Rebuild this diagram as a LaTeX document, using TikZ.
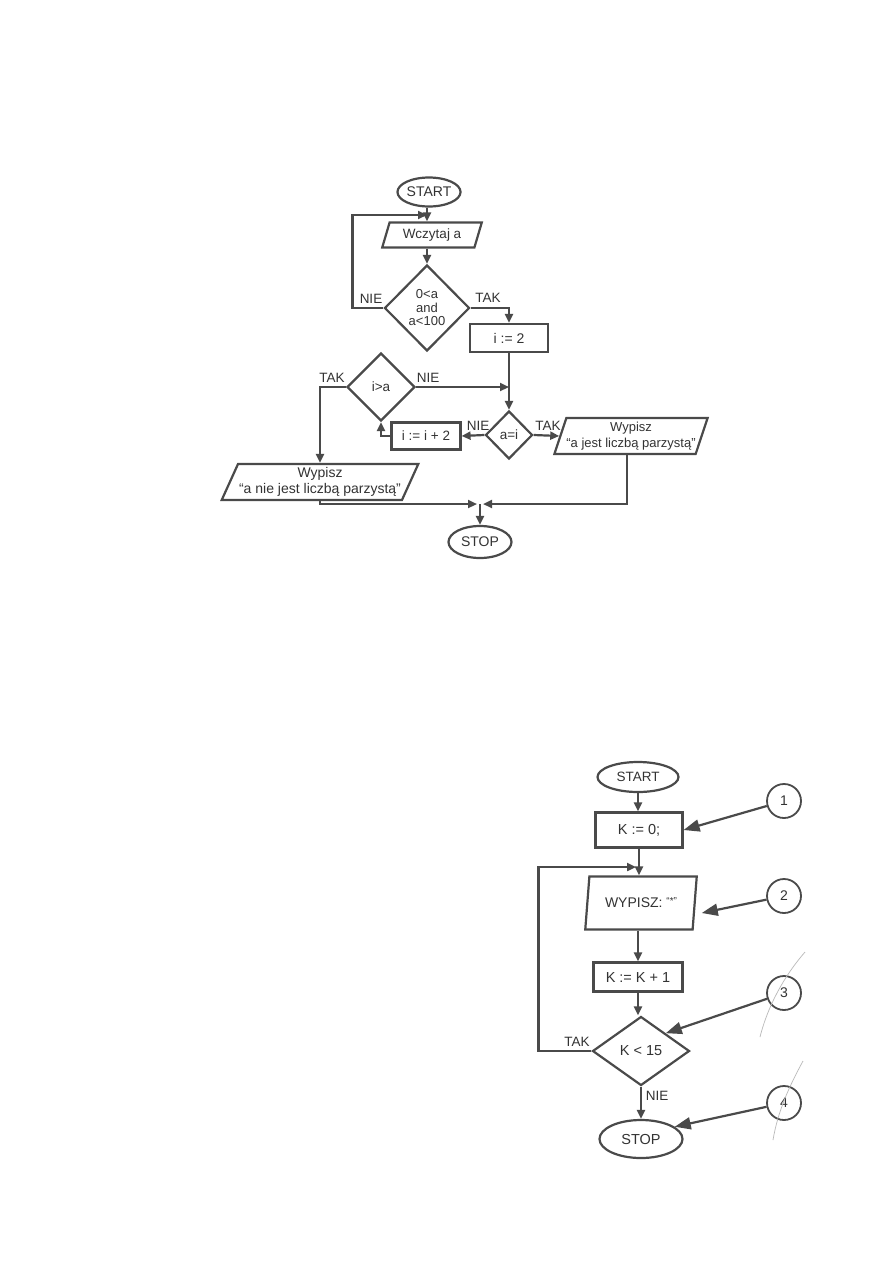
\documentclass[tikz,border=0pt]{standalone}
\usepackage{fontspec}
\setmainfont{Liberation Sans}
\usetikzlibrary{shapes.geometric,arrows.meta,calc}
\definecolor{ink}{HTML}{4A4A4A}
\definecolor{txt}{HTML}{333333}
\begin{document}
\begin{tikzpicture}[x=1pt,y=-1pt,
  every node/.style={text=txt,font=\fontsize{13.5}{15}\selectfont},
  proc/.style={draw=ink,line width=2.2pt,rectangle,inner sep=0pt},
  term/.style={draw=ink,line width=2.2pt,ellipse,inner sep=0pt},
  dec/.style={draw=ink,line width=2.2pt,diamond,inner sep=0pt,aspect=1},
  io/.style={draw=ink,line width=2.2pt,trapezium,trapezium stretches=true,inner sep=0pt,align=center},
  num/.style={draw=ink,line width=1.8pt,circle,inner sep=0pt,minimum size=34pt,font=\fontsize{14}{16}\selectfont},
  lbl/.style={inner sep=0pt},
  conn/.style={draw=ink,line width=2.2pt,-{Triangle[length=9pt,width=8pt]}},
  ptr/.style={draw=ink,line width=2.2pt,-{Triangle[length=16pt,width=12pt]}},
  pencil/.style={draw=gray!55,line width=0.7pt}
]
\useasboundingbox[fill=white] (0,0) rectangle (893,1263);

% ---------- top flowchart ----------
\node[term,minimum width=63pt,minimum height=29pt,font=\fontsize{14}{16}\selectfont] (start1) at (429,192) {START};
\node[io,trapezium left angle=68,trapezium right angle=112,minimum width=100pt,minimum height=25pt] (wcz) at (432,235) {Wczytaj a};
\node[dec,minimum width=85pt,minimum height=86pt,align=center,font=\fontsize{13}{13.5}\selectfont] (d1) at (427,308) {0<a\\and\\a<100};
\node[proc,minimum width=78pt,minimum height=28pt,font=\fontsize{14}{16}\selectfont] (i2) at (509,338) {i := 2};
\node[dec,minimum width=68pt,minimum height=68pt] (d3) at (381,387) {i>a};
\node[dec,minimum width=47pt,minimum height=48pt] (d2) at (509,435) {a=i};
\node[proc,minimum width=69pt,minimum height=27pt] (inc) at (426,436) {i := i + 2};
\node[io,trapezium left angle=67,trapezium right angle=113,minimum width=138pt,minimum height=36pt,font=\fontsize{13}{16}\selectfont] (wr) at (631,436) {Wypisz\\“a jest liczbą parzystą”};
\node[io,trapezium left angle=61,trapezium right angle=119,minimum width=197pt,minimum height=36pt,font=\fontsize{14}{16}\selectfont] (wl) at (320,482) {Wypisz\\“a nie jest liczbą parzystą”};
\node[term,minimum width=63pt,minimum height=32pt,font=\fontsize{14}{16}\selectfont] (stop1) at (480,542) {STOP};

\node[lbl] (nie1) at (371,299) {NIE};
\node[lbl] (tak1) at (488,298) {TAK};
\node[lbl] (tak2) at (332,378) {TAK};
\node[lbl] (nie2) at (428,378) {NIE};
\node[lbl] (nie3) at (478,426) {NIE};
\node[lbl] (tak3) at (548,426) {TAK};

\coordinate (back1) at (427,215);
\coordinate (jl) at (477,504);
\coordinate (jr) at (483,504);
\coordinate (j) at (480,504);

\draw[conn] (start1.south -| d1.north) -- (d1.north |- wcz.north);
\draw[conn] (wcz.south -| d1.north) -- (d1.north);
\draw[conn] (d1.west) -- ++(-31,0) |- (back1);
\draw[conn] (d1.east) -| (i2.north);
\draw[conn] (i2.south) -- (d2.north);
\draw[conn] (d3.east) -- (d3.east -| d2.north);
\draw[conn] (d2.west) -- (inc.east);
\draw[conn] (inc.west) -| (d3.south);
\draw[conn] (d3.west) -| (wl.north);
\draw[conn] (d2.east) -- (wr.west);
\draw[conn] (wl.south) |- (jl);
\draw[conn] ([xshift=-23pt]wr.south east) |- (jr);
\draw[conn] (j) -- (stop1.north);

% ---------- bottom flowchart ----------
\begin{scope}[every node/.style={text=txt,font=\fontsize{14.5}{16}\selectfont}]
\node[term,minimum width=81pt,minimum height=30pt,font=\fontsize{13.5}{15}\selectfont] (start2) at (638,777) {START};
\node[proc,minimum width=87pt,minimum height=35pt] (k0) at (639,830) {K := 0;};
\node[io,trapezium left angle=74,trapezium right angle=106,minimum width=112pt,minimum height=53pt,font=\fontsize{14}{16}\selectfont] (wy) at (641,903) {WYPISZ: \raisebox{3pt}{\fontsize{10}{11}\selectfont“*”}};
\node[proc,minimum width=89pt,minimum height=29pt] (k1) at (638,977) {K := K + 1};
\node[dec,minimum width=97pt,minimum height=69pt] (d4) at (641,1051) {K < 15};
\node[term,minimum width=83pt,minimum height=38pt] (stop2) at (641,1139) {STOP};

\node[num] (c1) at (784,801) {1};
\node[num] (c2) at (784,896) {2};
\node[num] (c3) at (784,993) {3};
\node[num] (c4) at (784,1103) {4};

\node[lbl,font=\fontsize{13.5}{15}\selectfont] (tak4) at (577,1042) {TAK};
\node[lbl,font=\fontsize{13.5}{15}\selectfont] (nie4) at (657,1096) {NIE};
\end{scope}

\coordinate (back2) at (636,867);

\draw[conn] (start2.south) -- (start2.south |- k0.north);
\draw[conn] (k0.south) -- (k0.south |- wy.north);
\draw[conn] (d4.west) -- ++(-53,0) |- (back2);
\draw[conn] (wy.south -| k1.north) -- (k1.north);
\draw[conn] (k1.south) -- (k1.south |- d4.north);
\draw[conn] (d4.south) -- (d4.south |- stop2.north);

\draw[ptr] (c1) -- (k0.east);
\draw[ptr] (c2) -- ($(wy.east)+(6,10)$);
\draw[ptr] (c3) -- (d4.north east);
\draw[ptr] (c4) -- (stop2.20);

% pencil marks
\draw[pencil] (805,952) .. controls (785,975) and (768,1005) .. (760,1037);
\draw[pencil] (803,1061) .. controls (790,1085) and (778,1110) .. (773,1140);
\end{tikzpicture}
\end{document}
